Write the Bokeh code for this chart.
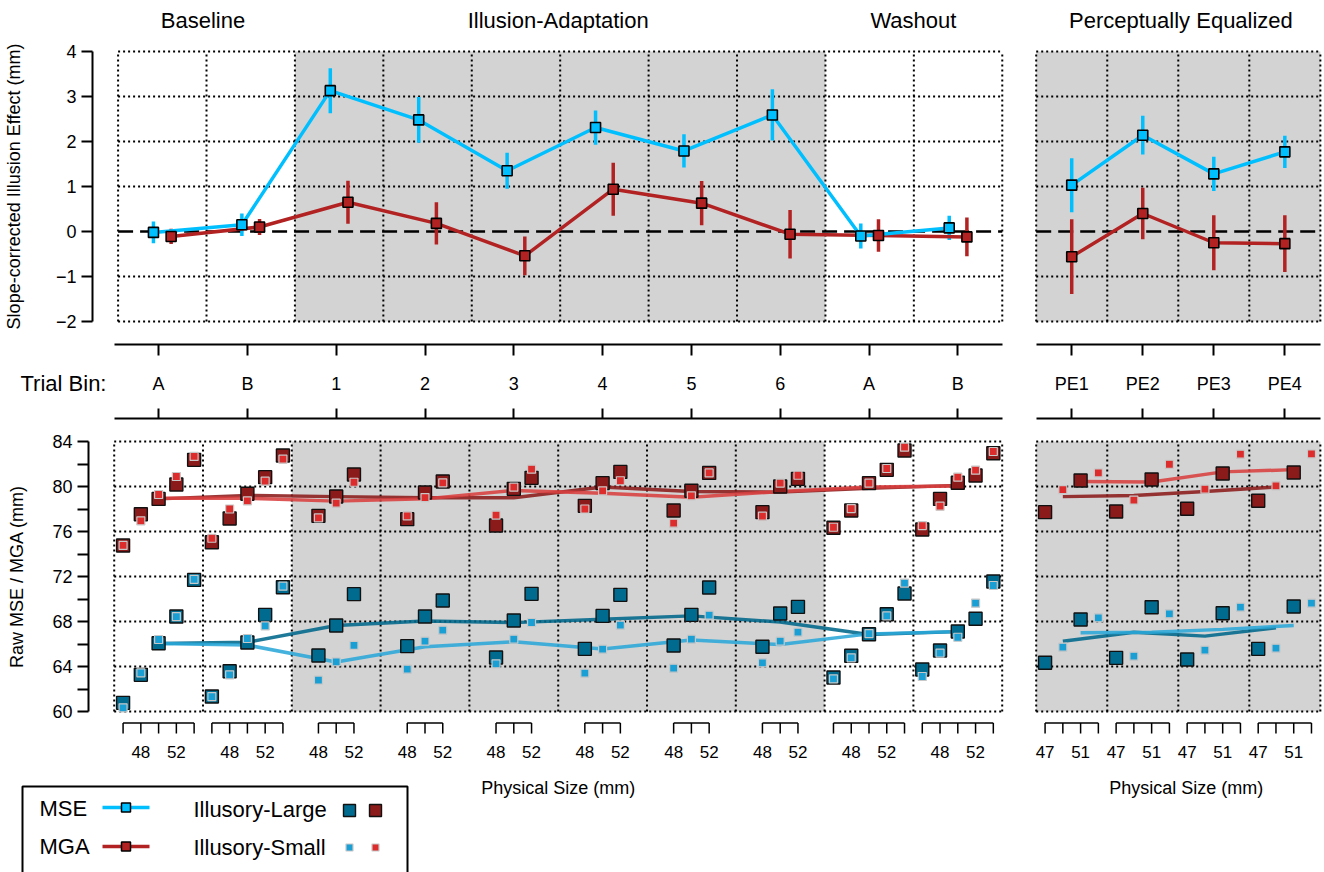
from bokeh.plotting import figure
from bokeh.layouts import column, row
from bokeh.models import Range1d, FixedTicker, LinearAxis, Grid
from bokeh.core.properties import value
from bokeh.embed import file_html
from bokeh.resources import INLINE

FONT = "Liberation Sans"

# ---------------- data ----------------
bin_labels = ["A", "B", "1", "2", "3", "4", "5", "6", "A", "B"]
pe_labels = ["PE1", "PE2", "PE3", "PE4"]
group_titles = ["Baseline", "Illusion-Adaptation", "Washout"]
group_first_bin = [0, 2, 8]
group_last_bin = [1, 7, 9]
shaded_bins = [2, 3, 4, 5, 6, 7]
pe_title = "Perceptually Equalized"

# slope-corrected illusion effect (mm) with error bars
mse_effect = [-0.02, 0.15, 3.13, 2.48, 1.35, 2.31, 1.79, 2.59, -0.10, 0.08]
mse_err = [0.24, 0.25, 0.50, 0.51, 0.40, 0.38, 0.37, 0.57, 0.28, 0.27]
mga_effect = [-0.11, 0.10, 0.65, 0.18, -0.54, 0.94, 0.63, -0.06, -0.09, -0.12]
mga_err = [0.17, 0.18, 0.48, 0.47, 0.43, 0.59, 0.49, 0.54, 0.36, 0.43]
pe_mse_effect = [1.03, 2.14, 1.28, 1.77]
pe_mse_err = [0.60, 0.43, 0.38, 0.36]
pe_mga_effect = [-0.56, 0.40, -0.25, -0.27]
pe_mga_err = [0.83, 0.57, 0.61, 0.63]

# physical sizes per bin
sizes_main = [[46, 48, 50, 52, 54]] * 2 + [[48, 50, 52]] * 6 + [[46, 48, 50, 52, 54]] * 2
size_labels_main = [48, 52]
pe_sizes_large = [47, 51]
pe_sizes_small = [49, 53]
pe_ticks = [47, 49, 51, 53]
size_labels_pe = [47, 51]

# raw values (mm) per bin, one value per physical size
mga_large = [[74.76, 77.54, 78.90, 80.18, 82.37], [75.05, 77.16, 79.35, 80.83, 82.76],
             [77.39, 79.11, 81.07], [77.10, 79.47, 80.44], [76.53, 79.79, 80.77],
             [78.28, 80.30, 81.30], [77.87, 79.62, 81.21], [77.72, 80.00, 80.68],
             [76.33, 77.87, 80.30, 81.48, 83.20], [76.18, 78.90, 80.33, 80.98, 82.96]]
mga_small = [[74.76, 76.95, 79.29, 80.89, 82.67], [75.40, 78.00, 78.73, 80.47, 82.43],
             [77.21, 78.52, 80.38], [77.39, 79.02, 80.33], [77.45, 79.94, 81.54],
             [78.00, 79.62, 80.51], [76.74, 79.17, 81.21], [77.36, 80.30, 81.00],
             [76.38, 78.04, 80.30, 81.60, 83.50], [76.53, 78.25, 80.83, 81.45, 83.11]]
mse_large = [[60.77, 63.26, 66.07, 68.44, 71.70], [61.33, 63.58, 66.13, 68.59, 71.05],
             [64.98, 67.64, 70.43], [65.81, 68.44, 69.87], [64.80, 68.09, 70.46],
             [65.57, 68.50, 70.37], [65.87, 68.59, 71.02], [65.75, 68.71, 69.30],
             [63.02, 64.95, 66.87, 68.65, 70.49], [63.73, 65.42, 67.11, 68.24, 71.56]]
mse_small = [[60.33, 63.44, 66.40, 68.44, 71.75], [61.33, 63.26, 66.49, 67.61, 71.14],
             [62.79, 64.41, 65.87], [63.76, 66.25, 67.23], [64.24, 66.43, 67.91],
             [63.41, 65.54, 67.67], [63.85, 66.43, 68.56], [64.33, 66.25, 67.05],
             [62.90, 64.77, 66.93, 68.50, 71.41], [63.11, 65.19, 66.60, 69.63, 71.20]]
# bin mean lines
mga_large_line = [78.90, 79.20, 79.10, 79.00, 79.00, 79.95, 79.55, 79.50, 79.85, 80.10]
mga_small_line = [78.95, 78.95, 78.70, 78.90, 79.65, 79.40, 79.05, 79.55, 79.95, 80.05]
mse_large_line = [66.05, 66.15, 67.65, 68.05, 67.90, 68.20, 68.50, 67.95, 66.85, 67.10]
mse_small_line = [66.05, 65.90, 64.40, 65.75, 66.20, 65.55, 66.35, 65.95, 66.90, 67.10]

pe_mga_large = [[77.72, 80.53], [77.78, 80.62], [78.02, 81.16], [78.73, 81.24]]
pe_mga_small = [[79.73, 81.21], [78.79, 81.98], [79.76, 82.87], [80.06, 82.90]]
pe_mse_large = [[64.33, 68.18], [64.77, 69.27], [64.62, 68.74], [65.57, 69.33]]
pe_mse_small = [[65.72, 68.33], [64.92, 68.68], [65.45, 69.27], [65.63, 69.63]]
pe_mga_large_line = [79.10, 79.20, 79.55, 79.95]
pe_mga_small_line = [80.45, 80.40, 81.30, 81.50]
pe_mse_large_line = [66.25, 67.05, 66.70, 67.45]
pe_mse_small_line = [67.00, 67.05, 67.30, 67.65]

top_ticks = [-2, -1, 0, 1, 2, 3, 4]
raw_ticks = [60, 64, 68, 72, 76, 80, 84]
raw_minor = [62, 66, 70, 74, 78, 82]

# ---------------- styling / geometry ----------------
C_MSE = "#00BFFF"
C_MGA = "#B22222"
C_LB = "#006B8F"   # illusory-large MSE
C_SB = "#1A9FD4"   # illusory-small MSE
C_LR = "#8B1A1A"   # illusory-large MGA
C_SR = "#DD2C2C"   # illusory-small MGA
C_LB_L = "#00688B"
C_SB_L = "#2AA7D8"
C_LR_L = "#8B1A1A"
C_SR_L = "#D94040"
SHADE = "#D3D3D3"

MAIN_W = 10.0      # mm per bin (main panels)
PE_W = 8.0         # mm per bin (PE panels)
MAIN_PX0, MAIN_PXMM = 113.7, 8.88
PE_PX0, PE_PXMM = 1035.7, 8.88
SPLIT, RIGHT = 1018, 1324
LW, RW = SPLIT, RIGHT - SPLIT


def rng(a, b, px0, pxmm):
    return Range1d((a - px0) / pxmm, (b - px0) / pxmm)


def base(w, h, xr, yr, bl=0, br=0, bt=0, bb=0):
    p = figure(width=w, height=h, x_range=xr, y_range=yr, output_backend="svg",
               toolbar_location=None, x_axis_location=None, y_axis_location=None,
               min_border_left=bl, min_border_right=br, min_border_top=bt, min_border_bottom=bb)
    p.outline_line_color = None
    p.background_fill_color = "white"
    p.border_fill_color = "white"
    for r in list(p.center):
        if isinstance(r, Grid):
            r.visible = False
    return p


def txt(p, x, y, t, size, align="center", **kw):
    p.text(x=x, y=y, text=t, text_font=value(FONT), text_font_size=value(size),
           text_align=align, text_baseline="middle", text_color="black", **kw)


def left_axis(p, ticks, minor, bounds, label, standoff, minor_out):
    ax = LinearAxis(ticker=FixedTicker(ticks=ticks, minor_ticks=minor), bounds=bounds,
                    axis_label=label)
    ax.axis_line_width = 2
    ax.axis_line_color = "black"
    ax.major_tick_line_width = 2
    ax.major_tick_line_color = "black"
    ax.minor_tick_line_width = 2
    ax.minor_tick_line_color = "black"
    ax.major_tick_out = 11
    ax.major_tick_in = 0
    ax.minor_tick_out = minor_out
    ax.minor_tick_in = 0
    ax.major_label_text_font = FONT
    ax.major_label_text_font_size = "18px"
    ax.major_label_text_color = "black"
    ax.major_label_standoff = 5
    ax.axis_label_text_font = FONT
    ax.axis_label_text_font_size = "18px"
    ax.axis_label_text_font_style = "normal"
    ax.axis_label_text_color = "black"
    ax.axis_label_standoff = standoff
    p.add_layout(ax, "left")


def panel_back(p, shade_l, shade_r, edges, yt, y0, y1, xend):
    for l, r in zip(shade_l, shade_r):
        p.quad(left=[l], right=[r], bottom=[y0], top=[y1], fill_color=SHADE, line_color=None)
    p.segment(x0=[0] * len(yt), x1=[xend] * len(yt), y0=yt, y1=yt,
              line_color="black", line_width=2, line_dash="2 3")
    p.segment(x0=edges, x1=edges, y0=[y0] * len(edges), y1=[y1] * len(edges),
              line_color="black", line_width=2, line_dash="2 3")


top_yr = Range1d(-2 - 2 / 45.0, 4 + 2 / 45.0)
raw_yr = Range1d(60 - 2 / 11.25, 84 + 2 / 11.25)

centers_main = [MAIN_W * k + MAIN_W / 2 for k in range(len(bin_labels))]
centers_pe = [PE_W * j + PE_W / 2 for j in range(len(pe_labels))]
edges_main = [MAIN_W * k for k in range(len(bin_labels) + 1)]
edges_pe = [PE_W * j for j in range(len(pe_labels) + 1)]
XEND_MAIN = edges_main[-1]
XEND_PE = edges_pe[-1]

# ---------------- title row ----------------
H_T = 39
t_l = base(LW, H_T, rng(0, SPLIT, MAIN_PX0, MAIN_PXMM), Range1d(0, 1))
gx = [(MAIN_W * a + MAIN_W * (b + 1)) / 2 for a, b in zip(group_first_bin, group_last_bin)]
txt(t_l, gx, [0.49] * 3, group_titles, "22px")
t_r = base(RW, H_T, rng(SPLIT, RIGHT, PE_PX0, PE_PXMM), Range1d(0, 1))
txt(t_r, [XEND_PE / 2 + 0.3], [0.49], [pe_title], "22px")

# ---------------- top panels ----------------
tl = base(LW, 294, rng(88, SPLIT, MAIN_PX0, MAIN_PXMM), top_yr, bl=88, bt=10, bb=10)
left_axis(tl, top_ticks, [], (-2, 4), "Slope-corrected Illusion Effect (mm)", 29, 0)
panel_back(tl, [MAIN_W * shaded_bins[0]], [MAIN_W * (shaded_bins[-1] + 1)], edges_main,
           [t for t in top_ticks if t != 0], -2, 4, XEND_MAIN)
tl.line(x=[0, XEND_MAIN], y=[0, 0], line_color="black", line_width=2.5, line_dash="15 7")
x_mse = [c - 1 for c in centers_main]
x_mga = [c + 1 for c in centers_main]
tl.segment(x0=x_mga, x1=x_mga, y0=[m - e for m, e in zip(mga_effect, mga_err)],
           y1=[m + e for m, e in zip(mga_effect, mga_err)], line_color=C_MGA, line_width=3.5)
tl.segment(x0=x_mse, x1=x_mse, y0=[m - e for m, e in zip(mse_effect, mse_err)],
           y1=[m + e for m, e in zip(mse_effect, mse_err)], line_color=C_MSE, line_width=3.5)
tl.line(x=x_mga, y=mga_effect, line_color=C_MGA, line_width=3.5)
tl.line(x=x_mse, y=mse_effect, line_color=C_MSE, line_width=3.5)
tl.scatter(x=x_mga, y=mga_effect, marker="square", size=10, fill_color=C_MGA, line_color="black", line_width=1.6)
tl.scatter(x=x_mse, y=mse_effect, marker="square", size=10, fill_color=C_MSE, line_color="black", line_width=1.6)

tr = base(RW, 294, rng(1033, RIGHT - 2, PE_PX0, PE_PXMM), top_yr, bl=15, br=2, bt=10, bb=10)
panel_back(tr, [0], [XEND_PE], edges_pe, [t for t in top_ticks if t != 0], -2, 4, XEND_PE)
tr.line(x=[0, XEND_PE], y=[0, 0], line_color="black", line_width=2.5, line_dash="15 7")
tr.segment(x0=centers_pe, x1=centers_pe, y0=[m - e for m, e in zip(pe_mga_effect, pe_mga_err)],
           y1=[m + e for m, e in zip(pe_mga_effect, pe_mga_err)], line_color=C_MGA, line_width=3.5)
tr.segment(x0=centers_pe, x1=centers_pe, y0=[m - e for m, e in zip(pe_mse_effect, pe_mse_err)],
           y1=[m + e for m, e in zip(pe_mse_effect, pe_mse_err)], line_color=C_MSE, line_width=3.5)
tr.line(x=centers_pe, y=pe_mga_effect, line_color=C_MGA, line_width=3.5)
tr.line(x=centers_pe, y=pe_mse_effect, line_color=C_MSE, line_width=3.5)
tr.scatter(x=centers_pe, y=pe_mga_effect, marker="square", size=10, fill_color=C_MGA, line_color="black", line_width=1.6)
tr.scatter(x=centers_pe, y=pe_mse_effect, marker="square", size=10, fill_color=C_MSE, line_color="black", line_width=1.6)

# ---------------- middle trial-bin axis ----------------
def mid_axes(p, ticks, bounds):
    for loc, tin in (("above", 11), ("below", 10)):
        a = LinearAxis(ticker=FixedTicker(ticks=ticks, minor_ticks=[]), bounds=bounds)
        a.major_tick_in = tin
        a.major_tick_out = 0
        a.minor_tick_in = 0
        a.minor_tick_out = 0
        a.axis_line_width = 2
        a.axis_line_color = "black"
        a.major_tick_line_width = 2
        a.major_tick_line_color = "black"
        a.major_label_text_font_size = "1px"
        a.major_label_text_color = None
        a.major_label_standoff = 0
        p.add_layout(a, loc)


m_l = base(LW, 98, rng(0, SPLIT, MAIN_PX0, MAIN_PXMM), Range1d(0, 1), bt=11, bb=13)
mid_axes(m_l, centers_main, (0, XEND_MAIN))
txt(m_l, centers_main, [0.47] * len(centers_main), bin_labels, "18px")
m_l.extra_x_ranges = {"px": Range1d(0, SPLIT)}
txt(m_l, [20], [0.47], ["Trial Bin:"], "22px", align="left", x_range_name="px")

m_r = base(RW, 98, rng(SPLIT, RIGHT, PE_PX0, PE_PXMM), Range1d(0, 1), bt=11, bb=13)
mid_axes(m_r, centers_pe, (0, XEND_PE))
txt(m_r, centers_pe, [0.47] * len(centers_pe), pe_labels, "18px")

# ---------------- bottom (raw) panels ----------------
def main_xy(vals):
    xs, ys = [], []
    for k, (sz, vv) in enumerate(zip(sizes_main, vals)):
        for s, v in zip(sz, vv):
            xs.append(MAIN_W * k - 45 + s)
            ys.append(v)
    return xs, ys


def pe_xy(vals, sizes):
    xs, ys = [], []
    for j, vv in enumerate(vals):
        for s, v in zip(sizes, vv):
            xs.append(PE_W * j - 46 + s)
            ys.append(v)
    return xs, ys


bl = base(LW, 290, rng(88, SPLIT, MAIN_PX0, MAIN_PXMM), raw_yr, bl=88, bt=8, bb=8)
left_axis(bl, raw_ticks, raw_minor, (60, 84), "Raw MSE / MGA (mm)", 22, 11)
panel_back(bl, [MAIN_W * shaded_bins[0]], [MAIN_W * (shaded_bins[-1] + 1)], edges_main,
           raw_ticks, 60, 84, XEND_MAIN)
for line_vals, col in ((mse_large_line, C_LB_L), (mse_small_line, C_SB_L),
                       (mga_large_line, C_LR_L), (mga_small_line, C_SR_L)):
    bl.line(x=centers_main, y=line_vals, line_color=col, line_width=3.5, line_alpha=0.88)
for vals, col in ((mse_large, C_LB), (mga_large, C_LR)):
    xs, ys = main_xy(vals)
    bl.scatter(x=xs, y=ys, marker="square", size=13, fill_color=col, line_color="#111111", line_width=1.4)
for vals, col in ((mse_small, C_SB), (mga_small, C_SR)):
    xs, ys = main_xy(vals)
    bl.scatter(x=xs, y=ys, marker="square", size=8, fill_color=col, line_color="#c8c8c8", line_width=1.2)

br = base(RW, 290, rng(1033, RIGHT - 2, PE_PX0, PE_PXMM), raw_yr, bl=15, br=2, bt=8, bb=8)
panel_back(br, [0], [XEND_PE], edges_pe, raw_ticks, 60, 84, XEND_PE)
x_pe_large_line = [PE_W * j - 46 + sum(pe_sizes_large) / 2 for j in range(len(pe_labels))]
x_pe_small_line = [PE_W * j - 46 + sum(pe_sizes_small) / 2 for j in range(len(pe_labels))]
for xl, line_vals, col in ((x_pe_large_line, pe_mse_large_line, C_LB_L), (x_pe_small_line, pe_mse_small_line, C_SB_L),
                           (x_pe_large_line, pe_mga_large_line, C_LR_L), (x_pe_small_line, pe_mga_small_line, C_SR_L)):
    br.line(x=xl, y=line_vals, line_color=col, line_width=3.5, line_alpha=0.88)
for vals, col in ((pe_mse_large, C_LB), (pe_mga_large, C_LR)):
    xs, ys = pe_xy(vals, pe_sizes_large)
    br.scatter(x=xs, y=ys, marker="square", size=13, fill_color=col, line_color="#111111", line_width=1.4)
for vals, col in ((pe_mse_small, C_SB), (pe_mga_small, C_SR)):
    xs, ys = pe_xy(vals, pe_sizes_small)
    br.scatter(x=xs, y=ys, marker="square", size=8, fill_color=col, line_color="#c8c8c8", line_width=1.2)

# ---------------- foot: physical-size ticks, axis title, legend ----------------
FOOT_TOP, FOOT_BOT = 721, 872
Y_BR, Y_TK, Y_LB, Y_TT = 722.5, 733, 751, 787


def size_ticks(p, groups, label_sizes):
    bx0, bx1, tx, lx, lt = [], [], [], [], []
    for xs, sz in groups:
        bx0.append(xs[0]); bx1.append(xs[-1])
        tx.extend(xs)
        for x, s in zip(xs, sz):
            if s in label_sizes:
                lx.append(x); lt.append(str(s))
    p.segment(x0=bx0, x1=bx1, y0=[Y_BR] * len(bx0), y1=[Y_BR] * len(bx0), line_color="black", line_width=1.5)
    p.segment(x0=tx, x1=tx, y0=[Y_BR] * len(tx), y1=[Y_TK] * len(tx), line_color="black", line_width=1.5)
    txt(p, lx, [Y_LB] * len(lx), lt, "17px")


f_l = base(LW, FOOT_BOT - FOOT_TOP, rng(0, SPLIT, MAIN_PX0, MAIN_PXMM), Range1d(FOOT_BOT, FOOT_TOP))
size_ticks(f_l, [([MAIN_W * k - 45 + s for s in sz], sz) for k, sz in enumerate(sizes_main)], size_labels_main)
txt(f_l, [XEND_MAIN / 2], [Y_TT], ["Physical Size (mm)"], "18px")
f_l.extra_x_ranges = {"px": Range1d(0, SPLIT)}
f_l.quad(left=[22], right=[407], top=[786], bottom=[900], fill_color=None, line_color="black",
         line_width=2, x_range_name="px")
txt(f_l, [39, 39], [808, 846], ["MSE", "MGA"], "22px", align="left", x_range_name="px")
txt(f_l, [193, 193], [809, 847], ["Illusory-Large", "Illusory-Small"], "22px", align="left", x_range_name="px")
for yy, col in ((807, C_MSE), (846, C_MGA)):
    f_l.line(x=[102, 149], y=[yy, yy], line_color=col, line_width=3.5, x_range_name="px")
    f_l.scatter(x=[125.5], y=[yy], marker="square", size=9, fill_color=col, line_color="black",
                line_width=1.5, x_range_name="px")
f_l.scatter(x=[349, 375], y=[810, 810], marker="square", size=12, fill_color=[C_LB, C_LR],
            line_color="#111111", line_width=1.4, x_range_name="px")
f_l.scatter(x=[349, 375], y=[847, 847], marker="square", size=7, fill_color=[C_SB, C_SR],
            line_color="#c8c8c8", line_width=1.2, x_range_name="px")

f_r = base(RW, FOOT_BOT - FOOT_TOP, rng(SPLIT, RIGHT, PE_PX0, PE_PXMM), Range1d(FOOT_BOT, FOOT_TOP))
size_ticks(f_r, [([PE_W * j - 46 + s for s in pe_ticks], pe_ticks) for j in range(len(pe_labels))], size_labels_pe)
txt(f_r, [XEND_PE / 2 + 0.9], [Y_TT], ["Physical Size (mm)"], "18px")

layout = column(row(t_l, t_r), row(tl, tr), row(m_l, m_r), row(bl, br), row(f_l, f_r))
open("out.html", "w").write(file_html(layout, INLINE))
